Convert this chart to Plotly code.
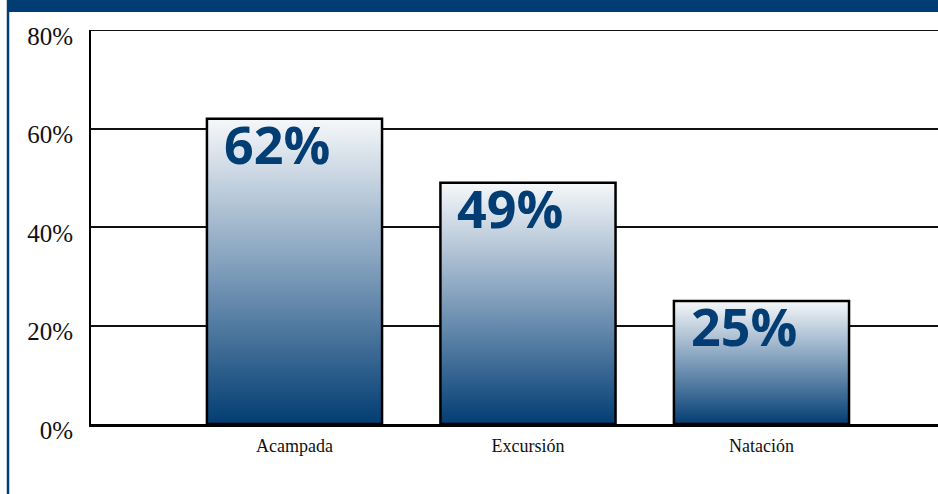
import plotly.graph_objects as go

categories = ["Acampada", "Excursión", "Natación"]
values = [62, 49, 25]
labels = ["62%", "49%", "25%"]
y_ticks = [0, 20, 40, 60, 80]
y_ticktext = ["0%", "20%", "40%", "60%", "80%"]

NAVY = "#023d73"
BAR_W = 0.75

fig = go.Figure()

for i, (c, v) in enumerate(zip(categories, values)):
    x0, x1 = i - BAR_W / 2, i + BAR_W / 2
    fig.add_trace(go.Scatter(
        x=[x0, x0, x1, x1, x0],
        y=[0, v, v, 0, 0],
        mode="lines",
        fill="toself",
        fillgradient=dict(type="vertical",
                          colorscale=[[0, NAVY], [0.5, "#7d9cba"], [1, "#f6f8fa"]]),
        line=dict(color="black", width=2.5),
        hoverinfo="skip",
        showlegend=False,
    ))
    fig.add_annotation(
        x=x0, y=v, xref="x", yref="y",
        text=f"<b>{labels[i]}</b>", showarrow=False,
        xanchor="left", yanchor="top", xshift=15, yshift=13,
        font=dict(family="Open Sans", size=52, color=NAVY),
    )

fig.update_layout(
    width=938, height=494,
    margin=dict(l=91, r=0, t=30, b=70),
    paper_bgcolor="white", plot_bgcolor="white",
    xaxis=dict(
        range=[-0.8715, 2.756], tickvals=list(range(len(categories))),
        ticktext=categories, showgrid=False, zeroline=False,
        showline=True, linecolor="black", linewidth=3,
        ticks="outside", ticklen=3, tickcolor="rgba(0,0,0,0)",
        tickfont=dict(family="Liberation Serif", size=18, color="#111"),
        fixedrange=True,
    ),
    yaxis=dict(
        range=[0, 80], tickvals=y_ticks, ticktext=y_ticktext,
        showgrid=True, gridcolor="#111", gridwidth=1.5, zeroline=False,
        showline=True, linecolor="black", linewidth=2,
        ticks="outside", ticklen=11, tickcolor="rgba(0,0,0,0)",
        ticklabelshift=6,
        tickfont=dict(family="Liberation Serif", size=25, color="#111"),
        fixedrange=True,
    ),
    shapes=[
        dict(type="line", xref="paper", yref="y",
             x0=0, x1=1, y0=y_ticks[-1], y1=y_ticks[-1],
             line=dict(color="#111", width=1.8), layer="below"),
        dict(type="rect", xref="paper", yref="paper",
             x0=(8 - 91) / 847, x1=1.0, y0=1 + 18 / 394, y1=1 + 31 / 394,
             fillcolor="#013d72", line=dict(width=0), layer="above"),
        dict(type="line", xref="paper", yref="paper",
             x0=(8 - 91) / 847, x1=(8 - 91) / 847, y0=-71 / 394, y1=1 + 31 / 394,
             line=dict(color="#013d72", width=2.5), layer="above"),
    ],
)

fig.write_html("out.html", config={"displayModeBar": False},
               post_script="document.body.style.margin='0';")
